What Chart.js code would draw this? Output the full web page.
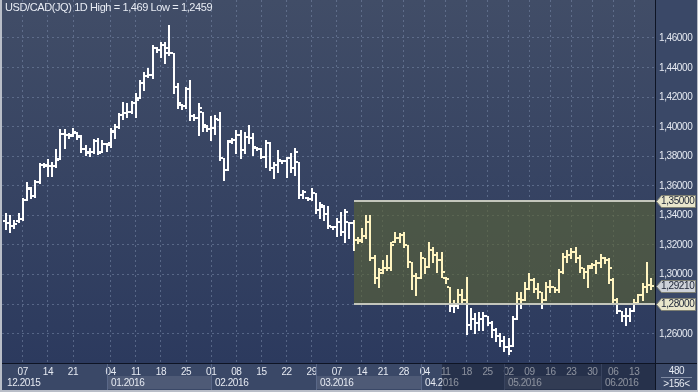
<!DOCTYPE html>
<html lang="en">
<head>
<meta charset="UTF-8">
<title>USD/CAD(JQ) 1D</title>
<script src="https://cdn.jsdelivr.net/npm/chart.js"></script>
<style>
    html, body { margin: 0; padding: 0; background: #b9bec8; }
    #wrap { width: 698px; height: 392px; }
    canvas { display: block; }
</style>
</head>
<body>
<div id="wrap"><canvas id="ohlc" width="698" height="392"></canvas></div>
<script>
// daily bars, 02.12.2015 .. 15.06.2016 (index 0..154)
const openP = [
    1.3360, 1.3346, 1.3326, 1.3360, 1.3373, 1.3502, 1.3577, 1.3529, 1.3624, 1.3739,
    1.3733, 1.3733, 1.3733, 1.3780, 1.3949, 1.3943, 1.3943, 1.3956, 1.3929, 1.3848,
    1.3821, 1.3827, 1.3902, 1.3827, 1.3882, 1.3875, 1.3963, 1.3997, 1.4078, 1.4092,
    1.4099, 1.4160, 1.4194, 1.4295, 1.4343, 1.4350, 1.4533, 1.4519, 1.4553, 1.4533,
    1.4499, 1.4268, 1.4146, 1.4139, 1.4255, 1.4071, 1.4058, 1.4099, 1.3997, 1.3983,
    1.3990, 1.4044, 1.3787, 1.3705, 1.3902, 1.3909, 1.3943, 1.3841, 1.3929, 1.3922,
    1.3855, 1.3848, 1.3794, 1.3888, 1.3719, 1.3739, 1.3766, 1.3766, 1.3787, 1.3719,
    1.3760, 1.3536, 1.3516, 1.3509, 1.3549, 1.3434, 1.3455, 1.3407, 1.3319, 1.3319,
    1.3353, 1.3285, 1.3353, 1.3346, 1.3231, 1.3231, 1.3258, 1.3353, 1.3109, 1.2973,
    1.3027, 1.3041, 1.3041, 1.3217, 1.3244, 1.3265, 1.3197, 1.3082, 1.2993, 1.2973,
    1.3109, 1.3048, 1.3163, 1.3129, 1.3095, 1.2973, 1.2912, 1.2790, 1.2790, 1.2858,
    1.2824, 1.2655, 1.2702, 1.2675, 1.2702, 1.2722, 1.2675, 1.2621, 1.2587, 1.2553,
    1.2512, 1.2519, 1.2702, 1.2837, 1.2824, 1.2905, 1.2960, 1.2905, 1.2878, 1.2824,
    1.2912, 1.2912, 1.2898, 1.3014, 1.3116, 1.3129, 1.3149, 1.3109, 1.3041, 1.3014,
    1.3055, 1.3061, 1.3075, 1.3109, 1.3095, 1.2960, 1.2824, 1.2756, 1.2716, 1.2722,
    1.2756, 1.2810, 1.2858, 1.2912, 1.2932
];
const highP = [
    1.3414, 1.3400, 1.3366, 1.3414, 1.3516, 1.3624, 1.3590, 1.3638, 1.3753, 1.3753,
    1.3780, 1.3760, 1.3848, 1.3983, 1.3983, 1.3956, 1.3990, 1.3963, 1.3943, 1.3875,
    1.3855, 1.3916, 1.3922, 1.3909, 1.3888, 1.3990, 1.4017, 1.4092, 1.4166, 1.4160,
    1.4173, 1.4227, 1.4316, 1.4370, 1.4397, 1.4553, 1.4539, 1.4573, 1.4573, 1.4688,
    1.4499, 1.4295, 1.4153, 1.4268, 1.4316, 1.4085, 1.4160, 1.4099, 1.4011, 1.4071,
    1.4078, 1.4099, 1.3787, 1.3909, 1.3922, 1.3977, 1.3977, 1.3963, 1.4011, 1.3956,
    1.3861, 1.3855, 1.3909, 1.3895, 1.3760, 1.3841, 1.3773, 1.3794, 1.3821, 1.3855,
    1.3760, 1.3570, 1.3522, 1.3583, 1.3549, 1.3488, 1.3468, 1.3461, 1.3326, 1.3380,
    1.3421, 1.3441, 1.3353, 1.3366, 1.3251, 1.3312, 1.3400, 1.3400, 1.3129, 1.3041,
    1.3095, 1.3129, 1.3217, 1.3285, 1.3278, 1.3285, 1.3197, 1.3082, 1.3007, 1.3149,
    1.3109, 1.3217, 1.3183, 1.3149, 1.3149, 1.2980, 1.2912, 1.2824, 1.2905, 1.2905,
    1.2980, 1.2776, 1.2736, 1.2743, 1.2743, 1.2722, 1.2688, 1.2641, 1.2607, 1.2587,
    1.2573, 1.2722, 1.2878, 1.2878, 1.2946, 1.3007, 1.2973, 1.2939, 1.2878, 1.2946,
    1.2960, 1.2912, 1.3034, 1.3143, 1.3163, 1.3177, 1.3183, 1.3129, 1.3041, 1.3061,
    1.3075, 1.3095, 1.3136, 1.3116, 1.3109, 1.2973, 1.2844, 1.2756, 1.2770, 1.2776,
    1.2837, 1.2871, 1.2939, 1.3082, 1.2973
];
const lowP = [
    1.3305, 1.3285, 1.3312, 1.3353, 1.3366, 1.3502, 1.3516, 1.3522, 1.3617, 1.3726,
    1.3665, 1.3665, 1.3726, 1.3780, 1.3855, 1.3922, 1.3936, 1.3916, 1.3827, 1.3807,
    1.3800, 1.3821, 1.3814, 1.3827, 1.3834, 1.3861, 1.3922, 1.3990, 1.4051, 1.4065,
    1.4092, 1.4065, 1.4194, 1.4248, 1.4336, 1.4329, 1.4505, 1.4472, 1.4431, 1.4485,
    1.4227, 1.4126, 1.4119, 1.4126, 1.4044, 1.4044, 1.3943, 1.3970, 1.3970, 1.3909,
    1.3949, 1.3773, 1.3638, 1.3705, 1.3888, 1.3821, 1.3787, 1.3821, 1.3888, 1.3807,
    1.3841, 1.3787, 1.3726, 1.3705, 1.3651, 1.3692, 1.3753, 1.3658, 1.3692, 1.3672,
    1.3516, 1.3516, 1.3502, 1.3502, 1.3414, 1.3380, 1.3366, 1.3312, 1.3305, 1.3258,
    1.3265, 1.3217, 1.3244, 1.3163, 1.3210, 1.3217, 1.3244, 1.3095, 1.2939, 1.2912,
    1.3007, 1.3027, 1.3027, 1.3217, 1.3217, 1.3183, 1.3048, 1.2905, 1.2858, 1.2973,
    1.3007, 1.3048, 1.3082, 1.3014, 1.2980, 1.2939, 1.2756, 1.2743, 1.2776, 1.2804,
    1.2600, 1.2634, 1.2607, 1.2621, 1.2621, 1.2655, 1.2580, 1.2553, 1.2519, 1.2485,
    1.2459, 1.2519, 1.2702, 1.2776, 1.2824, 1.2905, 1.2878, 1.2844, 1.2770, 1.2824,
    1.2878, 1.2878, 1.2878, 1.3007, 1.3082, 1.3109, 1.3082, 1.3014, 1.2973, 1.2912,
    1.3041, 1.3007, 1.3048, 1.3075, 1.2939, 1.2810, 1.2736, 1.2688, 1.2655, 1.2688,
    1.2756, 1.2810, 1.2824, 1.2878, 1.2905
];
const closeP = [
    1.3346, 1.3326, 1.3339, 1.3373, 1.3502, 1.3583, 1.3529, 1.3624, 1.3739, 1.3739,
    1.3733, 1.3733, 1.3773, 1.3949, 1.3943, 1.3936, 1.3963, 1.3936, 1.3848, 1.3827,
    1.3827, 1.3902, 1.3821, 1.3882, 1.3888, 1.3970, 1.3997, 1.4078, 1.4092, 1.4099,
    1.4160, 1.4180, 1.4295, 1.4343, 1.4350, 1.4533, 1.4519, 1.4553, 1.4499, 1.4499,
    1.4268, 1.4160, 1.4139, 1.4255, 1.4071, 1.4058, 1.4126, 1.4011, 1.3983, 1.3990,
    1.4051, 1.3787, 1.3705, 1.3895, 1.3909, 1.3943, 1.3841, 1.3929, 1.3922, 1.3861,
    1.3848, 1.3794, 1.3888, 1.3719, 1.3739, 1.3773, 1.3766, 1.3787, 1.3719, 1.3827,
    1.3536, 1.3556, 1.3509, 1.3549, 1.3434, 1.3468, 1.3407, 1.3326, 1.3319, 1.3353,
    1.3285, 1.3421, 1.3346, 1.3231, 1.3224, 1.3258, 1.3353, 1.3109, 1.2973, 1.3007,
    1.3041, 1.3041, 1.3197, 1.3244, 1.3265, 1.3197, 1.3082, 1.2993, 1.2973, 1.3109,
    1.3048, 1.3163, 1.3129, 1.3095, 1.3014, 1.2966, 1.2790, 1.2790, 1.2858, 1.2824,
    1.2655, 1.2702, 1.2675, 1.2702, 1.2722, 1.2675, 1.2621, 1.2587, 1.2553, 1.2512,
    1.2485, 1.2702, 1.2837, 1.2824, 1.2905, 1.2960, 1.2905, 1.2878, 1.2824, 1.2912,
    1.2912, 1.2898, 1.3014, 1.3116, 1.3129, 1.3149, 1.3109, 1.3041, 1.3014, 1.3041,
    1.3061, 1.3075, 1.3109, 1.3095, 1.3041, 1.2824, 1.2756, 1.2716, 1.2722, 1.2756,
    1.2810, 1.2858, 1.2912, 1.2932, 1.2921
];

// week ticks (bar index of the monday) and their labels
const dayTickIdx = [4, 10, 16, 25, 31, 37, 43, 49, 55, 61, 67, 73, 79, 85, 90, 95,
                    100, 105, 110, 115, 120, 125, 130, 135, 140, 145, 150];
const dayTickLabels = ['07', '14', '21', '04', '11', '18', '25', '01', '08', '15', '22', '29', '07', '14', '21', '28',
                       '04', '11', '18', '25', '02', '09', '16', '23', '30', '06', '13'];
const monthStartIdx = [-1, 24, 49, 74, 99, 119, 142];
const monthLabels = ['12.2015', '01.2016', '02.2016', '03.2016', '04.2016', '05.2016', '06.2016'];
const priceTicks = [1.26, 1.28, 1.30, 1.32, 1.34, 1.36, 1.38, 1.40, 1.42, 1.44, 1.46];

// rectangle object drawn on the chart
const zoneStartIdx = 83.1;
const zoneTop = 1.35;
const zoneBottom = 1.28;
const lastPrice = 1.2921;
const dimFromIdx = 104;

const titleText = 'USD/CAD(JQ) 1D High = 1,469 Low = 1,2459';
const FONT = "'Liberation Sans', Arial, sans-serif";

const fmtPrice = v => v.toFixed(5).replace('.', ',');

const decor = {
    id: 'decor',
    beforeDraw(chart) {
        const { ctx, chartArea: a, width, height } = chart;
        ctx.letterSpacing = '-0.4px';   // the terminal font is a bit narrower
        ctx.save();
        ctx.fillStyle = '#b9bec8';
        ctx.fillRect(0, 0, width, height);
        ctx.fillStyle = '#3a4867';
        ctx.fillRect(a.right, 0, width - 1 - a.right, height - 2);
        ctx.fillRect(a.left, a.bottom, a.right - a.left, height - 2 - a.bottom);
        const g = ctx.createLinearGradient(0, a.top, 0, a.bottom);
        g.addColorStop(0, '#414d67');
        g.addColorStop(1, '#2c3a5e');
        ctx.fillStyle = g;
        ctx.fillRect(a.left, a.top, a.right - a.left, a.bottom - a.top);
        ctx.restore();
    },
    beforeDatasetsDraw(chart) {
        const { ctx, chartArea: a, scales: { x, y } } = chart;
        const x0 = Math.round(x.getPixelForValue(zoneStartIdx));
        const y0 = Math.round(y.getPixelForValue(zoneTop));
        const y1 = Math.round(y.getPixelForValue(zoneBottom));
        ctx.save();
        ctx.fillStyle = 'rgba(92,107,92,0.6)';
        ctx.fillRect(x0, y0, a.right - x0, y1 - y0);
        ctx.restore();
    },
    beforeDatasetDraw(chart, args) {
        if (args.index !== 0) return;
        const { ctx, scales: { y } } = chart;
        ctx.save();
        ctx.fillStyle = '#ffffff';
        args.meta.data.forEach((el, i) => {
            const cx = Math.round(el.x);
            const top = Math.round(Math.min(el.y, el.base));
            const bot = Math.round(Math.max(el.y, el.base));
            ctx.fillRect(cx - 1, top, 2, bot - top + 1);
            const yo = Math.round(y.getPixelForValue(openP[i]));
            const yc = Math.round(y.getPixelForValue(closeP[i]));
            ctx.fillRect(cx - 3, yo - 1, 2, 2);
            ctx.fillRect(cx + 1, yc - 1, 2, 2);
        });
        ctx.restore();
        return false;
    },
    afterDatasetsDraw(chart) {
        const { ctx, chartArea: a, scales: { x, y } } = chart;
        const x0 = Math.round(x.getPixelForValue(zoneStartIdx));
        const y0 = Math.round(y.getPixelForValue(zoneTop));
        const y1 = Math.round(y.getPixelForValue(zoneBottom));
        ctx.save();
        ctx.globalCompositeOperation = 'multiply';
        ctx.fillStyle = '#fff4c0';
        ctx.fillRect(x0, y0, a.right - x0, y1 - y0);
        ctx.globalCompositeOperation = 'source-over';
        ctx.fillStyle = '#c4c6bc';
        ctx.fillRect(x0, y0 - 1, a.right - x0, 2);
        ctx.fillRect(x0, y1 - 1, a.right - x0, 2);
        ctx.restore();
    },
    afterDraw(chart) {
        const { ctx, chartArea: a, width, height, scales: { x, y } } = chart;
        ctx.save();
        ctx.font = '10px ' + FONT;
        ctx.textBaseline = 'middle';
        ctx.textAlign = 'left';
        // month row
        monthStartIdx.forEach((idx, m) => {
            const x0 = Math.max(a.left, Math.round(x.getPixelForValue(idx)));
            const x1 = m + 1 < monthStartIdx.length ? Math.round(x.getPixelForValue(monthStartIdx[m + 1])) : a.right;
            if (m % 2 === 1) {
                ctx.fillStyle = 'rgba(255,255,255,0.10)';
                ctx.fillRect(x0, a.bottom + 13, x1 - x0, height - 3 - (a.bottom + 13));
            }
            if (m > 0) {
                ctx.fillStyle = '#5a6888';
                ctx.fillRect(x0, a.bottom + 1, 1, height - 3 - a.bottom);
            }
            ctx.fillStyle = '#e6eaf2';
            ctx.fillText(monthLabels[m], x0 + (m === 0 ? 5 : 4), a.bottom + 20);
        });
        // dimmed part of the time axis
        const xd = Math.round(x.getPixelForValue(dimFromIdx));
        ctx.fillStyle = 'rgba(12,18,38,0.42)';
        ctx.fillRect(xd, a.bottom + 1, a.right - xd, height - 3 - a.bottom);
        // axis lines
        ctx.fillStyle = '#0e1424';
        ctx.fillRect(a.right, 0, 1, height - 2);
        ctx.fillRect(a.left, a.bottom, width - 1 - a.left, 1);
        // price labels
        ctx.fillStyle = '#e6eaf2';
        priceTicks.forEach(v => ctx.fillText(fmtPrice(v), a.right + 4, Math.round(y.getPixelForValue(v)) + 0.5));
        // price tags on the right axis
        const tag = (v, fill) => {
            const py = Math.round(y.getPixelForValue(v)) + 0.5;
            const l = a.right + 1.5;
            ctx.beginPath();
            ctx.moveTo(l, py);
            ctx.lineTo(l + 5, py - 6);
            ctx.lineTo(l + 39, py - 6);
            ctx.lineTo(l + 39, py + 6);
            ctx.lineTo(l + 5, py + 6);
            ctx.closePath();
            ctx.fillStyle = fill;
            ctx.fill();
            ctx.strokeStyle = '#7d7f72';
            ctx.lineWidth = 1;
            ctx.stroke();
            ctx.fillStyle = '#1b2336';
            ctx.fillText(fmtPrice(v), l + 4.5, py);
        };
        tag(zoneTop, '#e9e6cc');
        tag(zoneBottom, '#e9e6cc');
        tag(lastPrice, '#cdd1d8');
        // corner box
        const cx = (a.right + width) / 2;
        ctx.fillStyle = '#e6eaf2';
        ctx.textAlign = 'center';
        ctx.fillText('480', cx, a.bottom + 8);
        ctx.fillStyle = '#7f8aa2';
        ctx.fillRect(a.right + 6, a.bottom + 14, width - a.right - 12, 1);
        ctx.fillStyle = '#e6eaf2';
        ctx.fillText('>156<', cx, a.bottom + 21);
        // title
        ctx.font = '11px ' + FONT;
        ctx.textAlign = 'left';
        ctx.fillStyle = '#e8ecf4';
        ctx.fillText(titleText, a.left + 3, 8);
        ctx.restore();
    }
};

Chart.defaults.font.family = FONT;

new Chart(document.getElementById('ohlc'), {
    type: 'bar',
    data: {
        datasets: [{
            label: 'USD/CAD',
            data: highP.map((h, i) => ({ x: i, y: [lowP[i], h] })),
            backgroundColor: '#ffffff',
            barThickness: 2
        }]
    },
    options: {
        responsive: false,
        animation: false,
        events: [],
        layout: { padding: { left: 2, top: 0, right: 1, bottom: 2 } },
        plugins: { legend: { display: false }, tooltip: { enabled: false } },
        scales: {
            x: {
                type: 'linear',
                offset: false,
                bounds: 'data',
                min: -0.955,
                max: 154.97,
                afterBuildTicks: s => { s.ticks = dayTickIdx.map(v => ({ value: v })); },
                afterFit: s => { s.height = 27; s.paddingLeft = 0; s.paddingRight = 0; },
                grid: { offset: false, color: 'rgba(120,136,168,0.55)', drawTicks: false, lineWidth: 1 },
                border: { display: false, dash: [2, 3] },
                ticks: {
                    autoSkip: false,
                    maxRotation: 0,
                    padding: 3,
                    color: '#e6eaf2',
                    font: { size: 10 },
                    callback: (v, i) => dayTickLabels[i]
                }
            },
            y: {
                position: 'right',
                min: 1.2401,
                max: 1.4857,
                afterBuildTicks: s => { s.ticks = priceTicks.map(v => ({ value: v })); },
                afterFit: s => { s.width = 42; s.paddingTop = 0; s.paddingBottom = 0; },
                grid: { color: 'rgba(120,136,168,0.55)', drawTicks: false, lineWidth: 1 },
                border: { display: false, dash: [2, 3] },
                ticks: { display: false }
            }
        }
    },
    plugins: [decor]
});
</script>
</body>
</html>
